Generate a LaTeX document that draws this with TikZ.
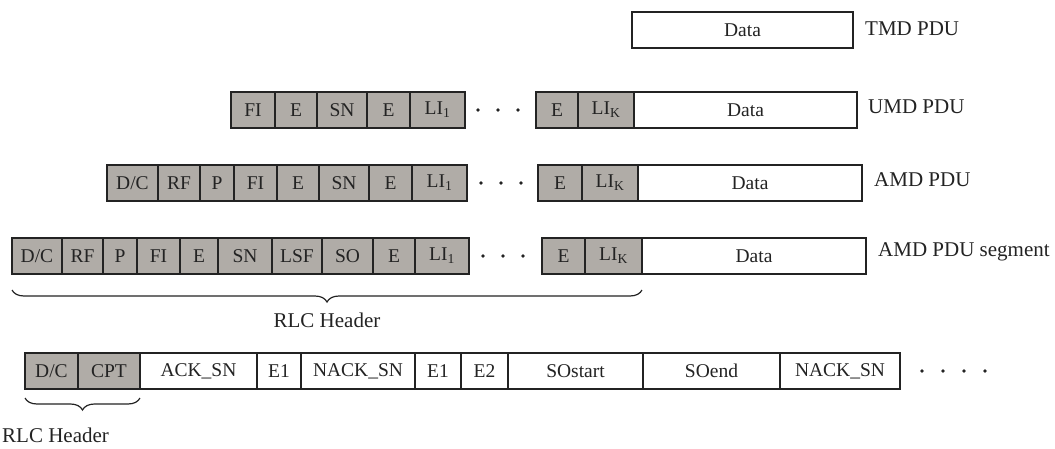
\documentclass[tikz,border=0pt]{standalone}
\usepackage{fontspec}
\setmainfont{Liberation Serif}
\usetikzlibrary{decorations.pathreplacing}
\definecolor{hdrgray}{RGB}{176,172,167}
\definecolor{inkline}{RGB}{35,35,35}
\tikzset{
  fieldbox/.style={draw=inkline, line width=1.3pt, inner sep=0pt, outer sep=0pt,
    minimum height=36pt, anchor=west, text=inkline, font=\fontsize{19.5}{21}\selectfont},
  hdrbox/.style={fieldbox, fill=hdrgray},
  databox/.style={fieldbox, fill=white},
  pdulabel/.style={anchor=west, inner sep=0pt, text=inkline, font=\fontsize{21}{23}\selectfont},
  bracelabel/.style={inner sep=0pt, text=inkline, font=\fontsize{21}{23}\selectfont},
  hbrace/.style={draw=inkline, line width=1.2pt,
    decorate, decoration={brace, mirror, amplitude=12pt}},
  dotmark/.style={fill=inkline}
}
% one field of a PDU: name, left x, right x, centre y, style, text
\newcommand\pdufield[6]{%
  \node[#5, minimum width={(#3-#2)*1pt}] (#1) at (#2,#4) {#6};}
\newcommand\gapdots[4]{%
  \fill[dotmark] (#1,#4) circle (1.9pt);
  \fill[dotmark] (#2,#4) circle (1.9pt);
  \fill[dotmark] (#3,#4) circle (1.9pt);}
\begin{document}
\begin{tikzpicture}[x=1pt, y=-1pt]
\useasboundingbox (0,0) rectangle (1055,448);

% TMD PDU
\pdufield{t1}{632}{853}{30}{databox}{Data}
\node[pdulabel] (tl) at (865,29) {TMD PDU};

% UMD PDU
\pdufield{u1}{231}{275}{110}{hdrbox}{FI}
\pdufield{u2}{275}{317}{110}{hdrbox}{E}
\pdufield{u3}{317}{367}{110}{hdrbox}{SN}
\pdufield{u4}{367}{410}{110}{hdrbox}{E}
\pdufield{u5}{410}{465}{110}{hdrbox}{LI\textsubscript{1}}
\gapdots{478}{498}{518}{110}
\pdufield{u6}{536}{578}{110}{hdrbox}{E}
\pdufield{u7}{578}{634}{110}{hdrbox}{LI\textsubscript{K}}
\pdufield{u8}{634}{857}{110}{databox}{Data}
\node[pdulabel] (ul) at (868,107) {UMD PDU};

% AMD PDU
\pdufield{a1}{107}{158}{183}{hdrbox}{D/C}
\pdufield{a2}{158}{200}{183}{hdrbox}{RF}
\pdufield{a3}{200}{234}{183}{hdrbox}{P}
\pdufield{a4}{234}{277}{183}{hdrbox}{FI}
\pdufield{a5}{277}{319}{183}{hdrbox}{E}
\pdufield{a6}{319}{369}{183}{hdrbox}{SN}
\pdufield{a7}{369}{412}{183}{hdrbox}{E}
\pdufield{a8}{412}{467}{183}{hdrbox}{LI\textsubscript{1}}
\gapdots{481}{501}{521}{183}
\pdufield{a9}{538}{582}{183}{hdrbox}{E}
\pdufield{a10}{582}{638}{183}{hdrbox}{LI\textsubscript{K}}
\pdufield{a11}{638}{862}{183}{databox}{Data}
\node[pdulabel] (al) at (874,180) {AMD PDU};

% AMD PDU segment
\pdufield{s1}{12}{62}{256}{hdrbox}{D/C}
\pdufield{s2}{62}{103}{256}{hdrbox}{RF}
\pdufield{s3}{103}{137}{256}{hdrbox}{P}
\pdufield{s4}{137}{180}{256}{hdrbox}{FI}
\pdufield{s5}{180}{218}{256}{hdrbox}{E}
\pdufield{s6}{218}{272}{256}{hdrbox}{SN}
\pdufield{s7}{272}{322}{256}{hdrbox}{LSF}
\pdufield{s8}{322}{373}{256}{hdrbox}{SO}
\pdufield{s9}{373}{415}{256}{hdrbox}{E}
\pdufield{s10}{415}{469}{256}{hdrbox}{LI\textsubscript{1}}
\gapdots{483}{503}{523}{256}
\pdufield{s11}{542}{585}{256}{hdrbox}{E}
\pdufield{s12}{585}{642}{256}{hdrbox}{LI\textsubscript{K}}
\pdufield{s13}{642}{866}{256}{databox}{Data}
\node[pdulabel] (sl) at (878,252) {AMD PDU segment};

% header brace of the segment
\draw[hbrace] ([yshift=-16pt]s1.south west) -- ([yshift=-16pt]s12.south east);
\node[bracelabel] (sbl) at (327,320) {RLC Header};

% STATUS PDU
\pdufield{c1}{25}{78}{371}{hdrbox}{D/C}
\pdufield{c2}{78}{140}{371}{hdrbox}{CPT}
\pdufield{c3}{140}{257}{371}{databox}{ACK\_SN}
\pdufield{c4}{257}{301}{371}{databox}{E1}
\pdufield{c5}{301}{415}{371}{databox}{NACK\_SN}
\pdufield{c6}{415}{461}{371}{databox}{E1}
\pdufield{c7}{461}{508}{371}{databox}{E2}
\pdufield{c8}{508}{643}{371}{databox}{SOstart}
\pdufield{c9}{643}{780}{371}{databox}{SOend}
\pdufield{c10}{780}{900}{371}{databox}{NACK\_SN}
\fill[dotmark] (922,371) circle (1.9pt);
\fill[dotmark] (943,371) circle (1.9pt);
\fill[dotmark] (964,371) circle (1.9pt);
\fill[dotmark] (985,371) circle (1.9pt);

% header brace of the status PDU
\draw[hbrace] ([yshift=-9pt]c1.south west) -- ([yshift=-9pt]c2.south east);
\node[bracelabel, anchor=west] (cbl) at (2,435) {RLC Header};
\end{tikzpicture}
\end{document}
